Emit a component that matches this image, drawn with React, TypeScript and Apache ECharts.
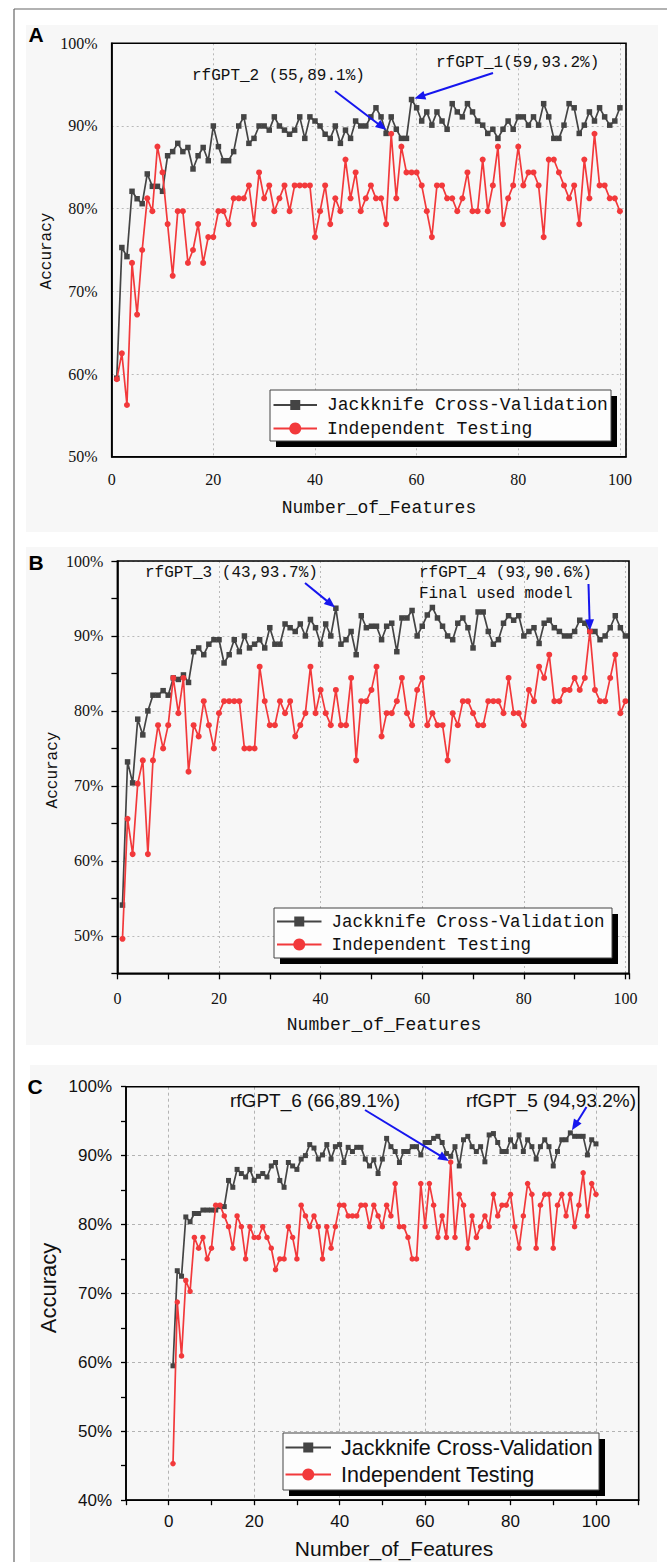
import React, { useEffect, useRef } from "react";
import * as echarts from "echarts";

// ---------- data ----------
const featureCounts: number[] = Array.from({ length: 100 }, (_, i) => i + 1);

const seriesNames = ["Jackknife Cross-Validation", "Independent Testing"];

const jackA = [
  59.5, 75.3, 74.2, 82.1, 81.2, 80.6, 84.2, 82.7, 82.7, 82.1,
  86.4, 86.9, 87.9, 86.9, 87.4, 84.8, 86.4, 87.4, 85.8, 90.0,
  87.5, 85.8, 85.8, 86.9, 90.0, 91.1, 87.9, 88.5, 90.0, 90.0,
  89.5, 91.1, 90.0, 89.5, 89.0, 89.5, 91.1, 88.5, 91.1, 90.6,
  90.0, 89.0, 88.5, 90.0, 87.9, 89.5, 88.5, 90.6, 90.0, 90.0,
  91.1, 92.2, 91.1, 89.1, 91.1, 89.6, 88.5, 88.5, 93.2, 92.2,
  90.6, 91.7, 90.1, 91.7, 90.6, 89.6, 92.7, 91.7, 91.1, 92.7,
  91.7, 90.6, 90.1, 89.1, 89.6, 88.5, 89.6, 90.6, 89.6, 91.1,
  91.1, 90.1, 91.1, 90.1, 92.7, 91.1, 88.5, 88.5, 90.1, 92.7,
  92.2, 89.1, 90.1, 91.7, 90.6, 92.2, 91.1, 90.1, 90.6, 92.2,
];
const indepA = [
  59.38, 62.5, 56.25, 73.44, 67.19, 75.0, 81.25, 79.69, 87.5, 84.38,
  78.13, 71.88, 79.69, 79.69, 73.44, 75.0, 78.13, 73.44, 76.56, 76.56,
  79.69, 79.69, 78.13, 81.25, 81.25, 81.25, 82.81, 78.13, 84.38, 81.25,
  82.81, 79.69, 81.25, 82.81, 79.69, 82.81, 82.81, 82.81, 82.81, 76.56,
  79.69, 82.81, 78.13, 81.25, 79.69, 85.94, 81.25, 84.38, 79.69, 81.25,
  82.81, 81.25, 81.25, 78.13, 89.06, 81.25, 87.5, 84.38, 84.38, 84.38,
  82.81, 79.69, 76.56, 82.81, 82.81, 81.25, 81.25, 79.69, 81.25, 84.38,
  79.69, 79.69, 85.94, 79.69, 82.81, 87.5, 78.13, 81.25, 82.81, 87.5,
  82.81, 84.38, 84.38, 82.81, 76.56, 85.94, 85.94, 84.38, 82.81, 81.25,
  82.81, 78.13, 85.94, 81.25, 89.06, 82.81, 82.81, 81.25, 81.25, 79.69,
];
const jackB = [
  54.1, 73.2, 70.4, 78.9, 76.8, 80.0, 82.1, 82.1, 82.7, 82.1,
  84.4, 84.2, 84.8, 83.8, 87.9, 88.4, 87.5, 88.9, 89.5, 89.5,
  86.4, 87.5, 89.5, 87.9, 90.0, 88.4, 88.9, 89.5, 88.4, 91.1,
  88.9, 88.9, 91.6, 91.1, 90.6, 91.6, 90.0, 92.2, 91.1, 88.9,
  91.6, 90.0, 93.7, 88.9, 89.5, 90.6, 87.5, 92.7, 91.1, 91.3,
  91.3, 89.5, 91.3, 91.7, 87.9, 92.4, 92.4, 93.4, 90.0, 91.3,
  92.8, 93.8, 92.4, 91.3, 90.0, 89.5, 91.7, 92.4, 91.1, 88.4,
  93.2, 93.2, 90.6, 88.9, 89.5, 91.7, 92.7, 92.1, 92.7, 90.0,
  90.6, 91.1, 89.0, 91.7, 92.1, 91.1, 90.6, 90.0, 90.0, 90.6,
  92.1, 91.7, 90.6, 90.6, 89.5, 90.0, 91.1, 92.7, 91.1, 90.0,
];
const indepB = [
  49.6, 65.6, 60.9, 70.3, 73.4, 60.9, 73.4, 78.1, 75.0, 78.1,
  84.4, 79.7, 84.4, 71.9, 78.1, 76.6, 81.3, 78.1, 75.0, 79.7,
  81.3, 81.3, 81.3, 81.3, 75.0, 75.0, 75.0, 85.9, 81.3, 78.1,
  78.1, 81.3, 79.7, 81.3, 76.6, 78.1, 79.7, 85.9, 79.7, 82.8,
  79.7, 78.1, 82.8, 78.1, 78.1, 84.4, 73.4, 81.3, 81.3, 82.8,
  85.9, 76.6, 79.7, 79.7, 81.3, 84.4, 79.7, 78.1, 82.8, 84.4,
  78.1, 79.7, 78.1, 78.1, 73.4, 79.7, 78.1, 81.3, 81.3, 79.7,
  78.1, 78.1, 81.3, 81.3, 81.3, 79.7, 84.4, 79.7, 79.7, 78.1,
  82.8, 81.3, 85.9, 84.4, 87.5, 81.3, 81.3, 82.8, 82.8, 84.4,
  82.8, 84.4, 90.6, 82.8, 81.3, 81.3, 84.4, 87.5, 79.7, 81.3,
];
const jackC = [
  59.5, 73.3, 72.5, 81.1, 80.4, 81.6, 81.6, 82.1, 82.1, 82.1,
  82.1, 82.6, 82.6, 86.4, 85.4, 88.0, 87.4, 86.9, 88.0, 86.4,
  87.0, 87.4, 86.9, 88.5, 89.0, 86.4, 85.4, 89.0, 88.5, 88.0,
  89.5, 90.0, 91.6, 91.1, 89.5, 90.1, 91.6, 89.5, 91.3, 91.6,
  89.0, 91.2, 90.6, 91.2, 91.2, 89.5, 88.5, 89.4, 87.4, 89.5,
  92.5, 91.3, 90.6, 89.0, 90.6, 90.6, 91.3, 91.3, 90.1, 91.9,
  91.9, 92.5, 92.8, 91.9, 90.3, 89.9, 91.3, 88.5, 92.3, 92.8,
  91.3, 90.6, 91.3, 89.1, 93.0, 93.2, 91.9, 90.6, 90.6, 92.3,
  91.3, 93.0, 90.6, 92.3, 91.3, 89.5, 91.3, 92.3, 91.3, 88.5,
  90.6, 92.3, 92.3, 93.3, 92.8, 92.8, 92.8, 90.1, 92.3, 91.7,
];
const indepC = [
  45.31, 68.75, 60.94, 71.88, 70.31, 78.13, 76.56, 78.13, 75.0, 76.56,
  82.81, 82.81, 81.25, 79.69, 76.56, 81.25, 79.69, 75.0, 79.69, 78.13,
  78.13, 79.69, 78.13, 76.56, 73.44, 75.0, 75.0, 79.69, 78.13, 75.0,
  82.81, 81.25, 79.69, 81.25, 79.69, 75.0, 79.69, 76.56, 79.69, 82.81,
  82.81, 81.25, 81.25, 81.25, 82.81, 82.81, 79.69, 82.81, 81.25, 79.69,
  82.81, 81.25, 85.94, 79.69, 79.69, 78.13, 75.0, 75.0, 85.94, 79.69,
  85.94, 82.81, 78.13, 81.25, 78.13, 89.06, 78.13, 84.38, 82.81, 76.56,
  81.25, 78.13, 79.69, 81.25, 79.69, 84.38, 81.25, 82.81, 82.81, 84.38,
  79.69, 76.56, 81.25, 85.94, 84.38, 76.56, 82.81, 84.38, 84.38, 76.56,
  82.81, 84.38, 81.25, 84.38, 79.69, 82.81, 87.5, 81.25, 85.94, 84.38,
];

// axis ranges per panel: [xMin, xMax, yMin, yMax]
const axisRanges = [
  [0, 101.2, 50, 100],
  [0, 100.7, 45, 100],
  [-10, 110, 40, 100],
];

const annotationLabels = [
  "rfGPT_2 (55,89.1%)",
  "rfGPT_1(59,93.2%)",
  "rfGPT_3 (43,93.7%)",
  "rfGPT_4 (93,90.6%)",
  "rfGPT_6 (66,89.1%)",
  "rfGPT_5 (94,93.2%)",
];

// ---------- style constants ----------
const SERIF = "Liberation Serif";
const MONO = "Liberation Mono";
const SANS = "Liberation Sans";
const DARK = "#444444";
const RED = "#f2393b";
const BLUE = "#1616ee";
const GRID_GREY = "#b9b9b9";
const TRANSPARENT = "rgba(0,0,0,0)";

const pairs = (vals: number[]) => featureCounts.map((x, i) => [x, vals[i]]);

function buildOption(): any {
  const frame = { show: false };
  const axisLineBlack = { show: true, onZero: false, lineStyle: { color: "#000", width: 1.6 } };
  const serifLabel = { fontFamily: SERIF, fontSize: 16, color: "#111" };
  const sansLabel = { fontFamily: SANS, fontSize: 17, color: "#111" };
  const dashed = { color: GRID_GREY, type: [2, 3], width: 1 };

  const lineSeries = (name: string, vals: number[], idx: number, red: boolean, small: boolean) => ({
    type: "line",
    name,
    xAxisIndex: idx,
    yAxisIndex: idx,
    data: pairs(vals),
    symbol: red ? "circle" : "rect",
    symbolSize: red ? (small ? 5.5 : 6) : small ? 5 : 5.5,
    showSymbol: true,
    showAllSymbol: true,
    lineStyle: { color: red ? RED : DARK, width: 1.7 },
    itemStyle: { color: red ? RED : DARK },
    z: red ? 4 : 3,
    silent: true,
  });

  return {
    animation: false,
    backgroundColor: "#ffffff",
    grid: [
      { left: 111.7, top: 43.3, width: 514.3, height: 413.4, ...frame },
      { left: 117.4, top: 561, width: 511.6, height: 412.3, ...frame },
      { left: 126, top: 1086.7, width: 512.7, height: 413.5, ...frame },
    ],
    xAxis: [
      {
        gridIndex: 0, type: "value", min: axisRanges[0][0], max: axisRanges[0][1], interval: 20,
        axisLine: axisLineBlack, axisTick: { show: false },
        axisLabel: { ...serifLabel, margin: 15, formatter: (v: number) => (v % 20 === 0 && v <= 100 ? String(v) : "") },
        splitLine: { show: true, lineStyle: dashed },
      },
      {
        gridIndex: 1, type: "value", min: axisRanges[1][0], max: axisRanges[1][1], interval: 10,
        axisLine: axisLineBlack,
        axisTick: { show: true, length: 6, lineStyle: { color: "#000", width: 1.3 } },
        axisLabel: { ...serifLabel, margin: 17, formatter: (v: number) => (v % 20 === 0 && v <= 100 ? String(v) : "") },
        splitLine: { show: true, lineStyle: { ...dashed, color: [GRID_GREY, TRANSPARENT] } },
      },
      {
        gridIndex: 2, type: "value", min: axisRanges[2][0], max: axisRanges[2][1], interval: 10,
        axisLine: axisLineBlack,
        axisTick: { show: true, length: 5, lineStyle: { color: "#000", width: 1.3 } },
        axisLabel: { ...sansLabel, margin: 13, formatter: (v: number) => (v % 20 === 0 && v >= 0 && v <= 100 ? String(v) : "") },
        splitLine: { show: true, lineStyle: { color: [TRANSPARENT, "#b3b3b3"], type: [3, 3], width: 1 } },
      },
    ],
    yAxis: [
      {
        gridIndex: 0, type: "value", min: axisRanges[0][2], max: axisRanges[0][3], interval: 10,
        axisLine: axisLineBlack, axisTick: { show: false },
        axisLabel: { ...serifLabel, margin: 14, formatter: (v: number) => `${v}%` },
        splitLine: { show: true, lineStyle: dashed },
      },
      {
        gridIndex: 1, type: "value", min: axisRanges[1][2], max: axisRanges[1][3], interval: 5,
        axisLine: axisLineBlack,
        axisTick: { show: true, length: 6, lineStyle: { color: "#000", width: 1.3 } },
        axisLabel: { ...serifLabel, margin: 14, formatter: (v: number) => (v % 10 === 0 ? `${v}%` : "") },
        splitLine: { show: true, lineStyle: { ...dashed, color: [TRANSPARENT, GRID_GREY] } },
      },
      {
        gridIndex: 2, type: "value", min: axisRanges[2][2], max: axisRanges[2][3], interval: 10,
        axisLine: axisLineBlack,
        axisTick: { show: true, length: 5, lineStyle: { color: "#000", width: 1.3 } },
        minorTick: { show: true, splitNumber: 2, length: 5, lineStyle: { color: "#000", width: 1.3 } },
        axisLabel: { ...sansLabel, margin: 14, formatter: (v: number) => `${v}%` },
        splitLine: { show: true, lineStyle: { color: "#b3b3b3", type: [3, 3], width: 1 } },
      },
    ],
    series: [
      lineSeries(seriesNames[0], jackA, 0, false, false),
      lineSeries(seriesNames[1], indepA, 0, true, false),
      lineSeries(seriesNames[0], jackB, 1, false, false),
      lineSeries(seriesNames[1], indepB, 1, true, false),
      lineSeries(seriesNames[0], jackC, 2, false, true),
      lineSeries(seriesNames[1], indepC, 2, true, true),
    ],
  };
}

function arrow(tail: number[], pt: number[], gap: number): any[] {
  const dx = pt[0] - tail[0];
  const dy = pt[1] - tail[1];
  const L = Math.hypot(dx, dy) || 1;
  const ux = dx / L;
  const uy = dy / L;
  const tip = [pt[0] - ux * gap, pt[1] - uy * gap];
  const head = 11;
  const hw = 4.5;
  const base = [tip[0] - ux * head, tip[1] - uy * head];
  return [
    {
      type: "line",
      z: 30,
      silent: true,
      shape: { x1: tail[0], y1: tail[1], x2: base[0] + ux * 2, y2: base[1] + uy * 2 },
      style: { stroke: BLUE, lineWidth: 2 },
    },
    {
      type: "polygon",
      z: 30,
      silent: true,
      shape: { points: [tip, [base[0] - uy * hw, base[1] + ux * hw], [base[0] + uy * hw, base[1] - ux * hw]] },
      style: { fill: BLUE },
    },
  ];
}

function txt(text: string, x: number, y: number, family: string, size: number, opts: any = {}): any {
  return {
    type: "text",
    z: 30,
    silent: true,
    x,
    y,
    rotation: opts.rotation || 0,
    style: {
      text,
      fill: opts.fill || "#111",
      fontFamily: family,
      fontSize: size,
      fontWeight: opts.weight || "normal",
      align: opts.align || "left",
      verticalAlign: "middle",
    },
  };
}

function legend(
  box: { x: number; y: number; w: number; h: number },
  rows: number[],
  lineX: [number, number],
  textX: number,
  family: string,
  size: number
): any[] {
  const mid = (lineX[0] + lineX[1]) / 2;
  return [
    { type: "rect", z: 25, silent: true, shape: { x: box.x + 6, y: box.y + 6, width: box.w, height: box.h }, style: { fill: "#000" } },
    { type: "rect", z: 26, silent: true, shape: { x: box.x, y: box.y, width: box.w, height: box.h }, style: { fill: "#fdfdfd", stroke: "#444", lineWidth: 1 } },
    { type: "line", z: 27, silent: true, shape: { x1: lineX[0], y1: rows[0], x2: lineX[1], y2: rows[0] }, style: { stroke: DARK, lineWidth: 2 } },
    { type: "rect", z: 28, silent: true, shape: { x: mid - 5, y: rows[0] - 5, width: 10, height: 10 }, style: { fill: DARK } },
    { type: "line", z: 27, silent: true, shape: { x1: lineX[0], y1: rows[1], x2: lineX[1], y2: rows[1] }, style: { stroke: RED, lineWidth: 2 } },
    { type: "circle", z: 28, silent: true, shape: { cx: mid, cy: rows[1], r: 6 }, style: { fill: RED } },
    txt(seriesNames[0], textX, rows[0], family, size),
    txt(seriesNames[1], textX, rows[1], family, size),
  ];
}

function buildGraphics(chart: any): any[] {
  const px = (grid: number, x: number, vals: number[]) => chart.convertToPixel({ gridIndex: grid }, [x, vals[x - 1]]);
  const els: any[] = [];
  // panel backgrounds
  els.push({ type: "rect", z: -10, silent: true, shape: { x: 26, y: 25, width: 632, height: 507 }, style: { fill: "#f7f7f7" } });
  els.push({ type: "rect", z: -10, silent: true, shape: { x: 26, y: 547, width: 632, height: 498 }, style: { fill: "#f7f7f7" } });
  els.push({ type: "rect", z: -10, silent: true, shape: { x: 30, y: 1065, width: 627, height: 497 }, style: { fill: "#f7f7f7" } });
  // plot frames (solid, on top of split lines)
  axisRanges.forEach((r, g) => {
    const p0 = chart.convertToPixel({ gridIndex: g }, [r[0], r[3]]);
    const p1 = chart.convertToPixel({ gridIndex: g }, [r[1], r[2]]);
    els.push({
      type: "rect",
      z: 24,
      silent: true,
      shape: { x: p0[0], y: p0[1], width: p1[0] - p0[0], height: p1[1] - p0[1] },
      style: { fill: TRANSPARENT, stroke: "#000", lineWidth: 1.6 },
    });
  });
  // outer frame lines
  els.push({ type: "line", z: 30, silent: true, shape: { x1: 14, y1: 9, x2: 667, y2: 9 }, style: { stroke: "#666", lineWidth: 1.2 } });
  els.push({ type: "line", z: 30, silent: true, shape: { x1: 14, y1: 9, x2: 14, y2: 1562 }, style: { stroke: "#666", lineWidth: 1.2 } });
  // panel letters
  els.push(txt("A", 36, 34, SANS, 21, { weight: "bold", align: "center", fill: "#000" }));
  els.push(txt("B", 36, 562, SANS, 21, { weight: "bold", align: "center", fill: "#000" }));
  els.push(txt("C", 35, 1086, SANS, 21, { weight: "bold", align: "center", fill: "#000" }));
  // axis titles
  els.push(txt("Number_of_Features", 379, 508, MONO, 18, { align: "center" }));
  els.push(txt("Accuracy", 47, 251, MONO, 16, { align: "center", rotation: Math.PI / 2 }));
  els.push(txt("Number_of_Features", 384, 1025, MONO, 18, { align: "center" }));
  els.push(txt("Accuracy", 53, 770, MONO, 16, { align: "center", rotation: Math.PI / 2 }));
  els.push(txt("Number_of_Features", 394, 1548, SANS, 21, { align: "center" }));
  els.push(txt("Accuracy", 48, 1288, SANS, 22, { align: "center", rotation: Math.PI / 2 }));
  // annotations
  els.push(txt(annotationLabels[0], 192, 76, MONO, 16));
  els.push(txt(annotationLabels[1], 436, 63, MONO, 16));
  els.push(txt(annotationLabels[2], 145, 573, MONO, 16));
  els.push(txt(annotationLabels[3], 419, 573, MONO, 16));
  els.push(txt("Final used model", 419, 594, MONO, 16));
  els.push(txt(annotationLabels[4], 230, 1100, SANS, 19));
  els.push(txt(annotationLabels[5], 466, 1100, SANS, 19));
  els.push(...arrow([335, 91], px(0, 55, indepA), 6));
  els.push(...arrow([493, 73], px(0, 59, jackA), 3));
  els.push(...arrow([305, 583], px(1, 43, jackB), 1));
  els.push(...arrow([588.5, 584], px(1, 93, indepB), 1));
  els.push(...arrow([365, 1110], px(2, 66, indepC), 2));
  els.push(...arrow([586.5, 1107], px(2, 94, jackC), 3));
  // legends
  els.push(...legend({ x: 270, y: 390, w: 341, h: 51 }, [405, 428.5], [273.5, 317], 327, MONO, 18));
  els.push(...legend({ x: 274, y: 908, w: 338, h: 50 }, [921.5, 944.5], [277, 321.5], 331.5, MONO, 17.5));
  els.push(...legend({ x: 283, y: 1433, w: 316, h: 57 }, [1447.5, 1474.5], [285.5, 331], 341, SANS, 21.5));
  return els;
}

export default function App() {
  const ref = useRef<HTMLDivElement>(null);
  useEffect(() => {
    if (!ref.current) return;
    const chart = echarts.init(ref.current, undefined, { renderer: "svg", width: 667, height: 1562 });
    chart.setOption(buildOption());
    chart.setOption({ graphic: { elements: buildGraphics(chart) } });
    return () => chart.dispose();
  }, []);
  return (
    <div
      ref={ref}
      style={{ position: "fixed", left: 0, top: 0, width: 667, height: 1562, background: "#fff", overflow: "hidden" }}
    />
  );
}
